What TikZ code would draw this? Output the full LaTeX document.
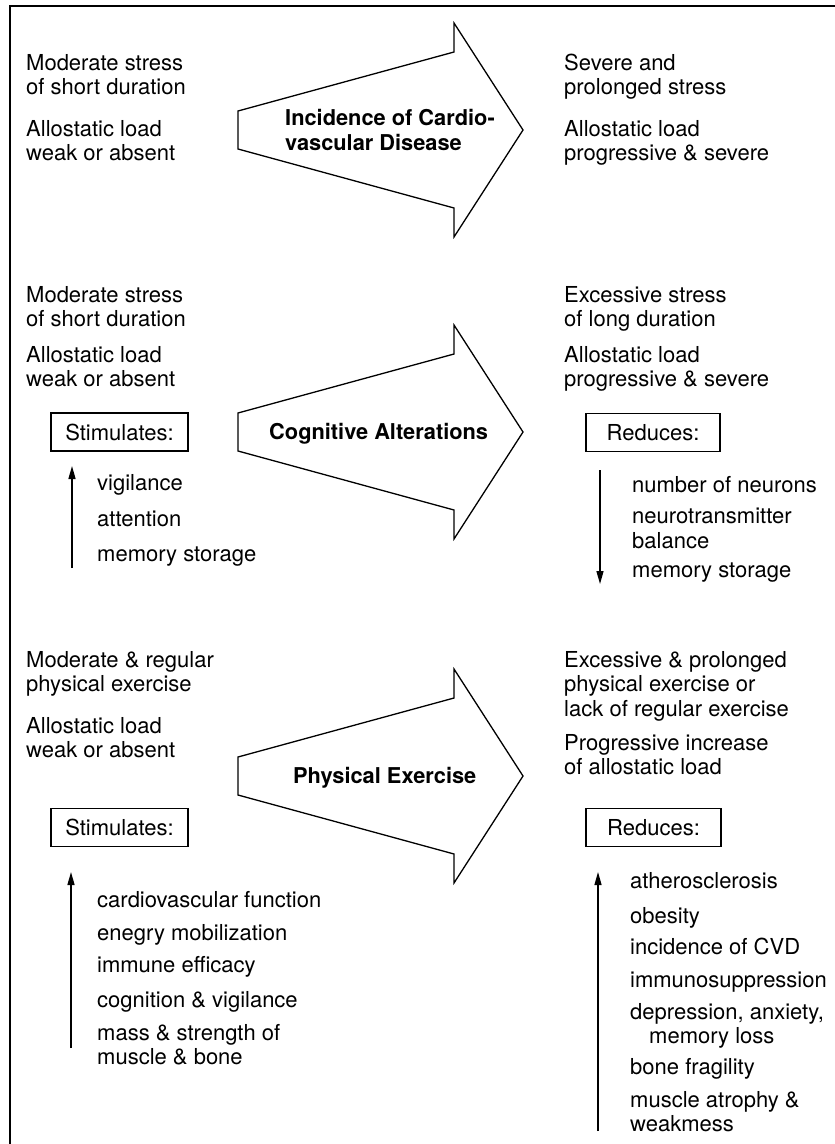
\documentclass[tikz,border=0pt]{standalone}
\usepackage{fontspec}
\setmainfont{TeX Gyre Heros}
\usetikzlibrary{arrows.meta}

\begin{document}
\begin{tikzpicture}[x=1pt, y=-1pt]

    % Estilos (el ancla base cae en la ultima linea)
    \tikzstyle{texto}=[anchor=base west, inner sep=0pt, align=left, font=\fontsize{22}{24.5}\selectfont]
    \tikzstyle{titulo}=[texto, font=\bfseries\fontsize{21.8}{25}\selectfont]
    \tikzstyle{caja}=[draw, line width=1.2pt, minimum width=137pt, minimum height=38pt, inner sep=0pt, font=\fontsize{22}{24.5}\selectfont]
    \tikzstyle{flechagrande}=[draw, line width=1.3pt, line join=miter]
    \tikzstyle{flecha}=[-{Triangle[length=13pt,width=7pt]}, line width=1.3pt]

    \useasboundingbox (0,0) rectangle (835,1144);

    % Marco
    \draw[line width=2pt] (10,1144) -- (10,6) -- (835,6);

    % Flechas grandes
    \foreach \yc in {130,432,776}
        \draw[flechagrande] (238,\yc-19) -- (454,\yc-78) -- (454,\yc-107)
            -- (523,\yc) -- (454,\yc+107) -- (454,\yc+78) -- (238,\yc+19) -- cycle;

    % Enfermedad cardiovascular
    \node[texto] (izqA1) at (26,94.5) {Moderate stress\\of short duration};
    \node[texto] (izqA2) at (26,160.5) {Allostatic load\\weak or absent};
    \node[titulo] (titA) at (285,150) {Incidence of Cardio-\\vascular Disease};
    \node[texto] (derA1) at (564,94.5) {Severe and\\prolonged stress};
    \node[texto] (derA2) at (564,160.5) {Allostatic load\\progressive \& severe};

    % Alteraciones cognitivas
    \node[texto] (izqB1) at (26,326.5) {Moderate stress\\of short duration};
    \node[texto] (izqB2) at (26,386.5) {Allostatic load\\weak or absent};
    \node[titulo] (titB) at (269,439) {Cognitive Alterations};
    \node[texto] (derB1) at (564,326.5) {Excessive stress\\of long duration};
    \node[texto] (derB2) at (564,386.5) {Allostatic load\\progressive \& severe};
    \node[caja] (estimB) at (119.5,432) {Stimulates:};
    \node[caja, minimum width=134pt] (reducB) at (653,432.5) {Reduces:};

    \node[texto] (vigil) at (97,490) {vigilance};
    \node[texto] (atenc) at (97,526) {attention};
    \node[texto] (memB) at (97,561) {memory storage};
    \node[texto] (neuro) at (632,492) {number of neurons};
    \node[texto] (neurot) at (632,548) {neurotransmitter\\balance};
    \node[texto] (memC) at (632,577) {memory storage};

    \coordinate (estimBab) at (72,568);
    \coordinate (estimBar) at (72,466);
    \coordinate (reducBar) at (600,470);
    \coordinate (reducBab) at (600,584);
    \draw[flecha] (estimBab) -- (estimBar);
    \draw[flecha] (reducBar) -- (reducBab);

    % Ejercicio fisico
    \node[texto] (izqC1) at (26,691.5) {Moderate \& regular\\physical exercise};
    \node[texto] (izqC2) at (26,757.5) {Allostatic load\\weak or absent};
    \node[titulo] (titC) at (293,783) {Physical Exercise};
    \node[texto] (derC1) at (564,716) {Excessive \& prolonged\\physical exercise or\\lack of regular exercise};
    \node[texto] (derC2) at (564,774.5) {Progressive increase\\of allostatic load};
    \node[caja] (estimC) at (119.5,827.5) {Stimulates:};
    \node[caja, minimum width=135pt] (reducC) at (653.5,827.5) {Reduces:};

    \node[texto] (cardio) at (97,907) {cardiovascular function};
    \node[texto] (energ) at (97,940) {enegry mobilization};
    \node[texto] (inmune) at (97,972) {immune efficacy};
    \node[texto] (cognic) at (97,1007) {cognition \& vigilance};
    \node[texto] (masa) at (97,1064.5) {mass \& strength of\\muscle \& bone};

    \node[texto] (ateros) at (630,888) {atherosclerosis};
    \node[texto] (obes) at (630,923) {obesity};
    \node[texto] (cvd) at (630,954) {incidence of CVD};
    \node[texto] (inmuno) at (630,987) {immunosuppression};
    \node[texto] (depres) at (630,1043.5) {depression, anxiety,\\\hspace*{19pt}memory loss};
    \node[texto] (hueso) at (630,1074) {bone fragility};
    \node[texto] (musc) at (630,1131.5) {muscle atrophy \&\\weakmess};

    \coordinate (estimCab) at (71,1048);
    \coordinate (estimCar) at (71,872);
    \coordinate (reducCab) at (598,1131);
    \coordinate (reducCar) at (598,872);
    \draw[flecha] (estimCab) -- (estimCar);
    \draw[flecha] (reducCab) -- (reducCar);
\end{tikzpicture}
\end{document}
